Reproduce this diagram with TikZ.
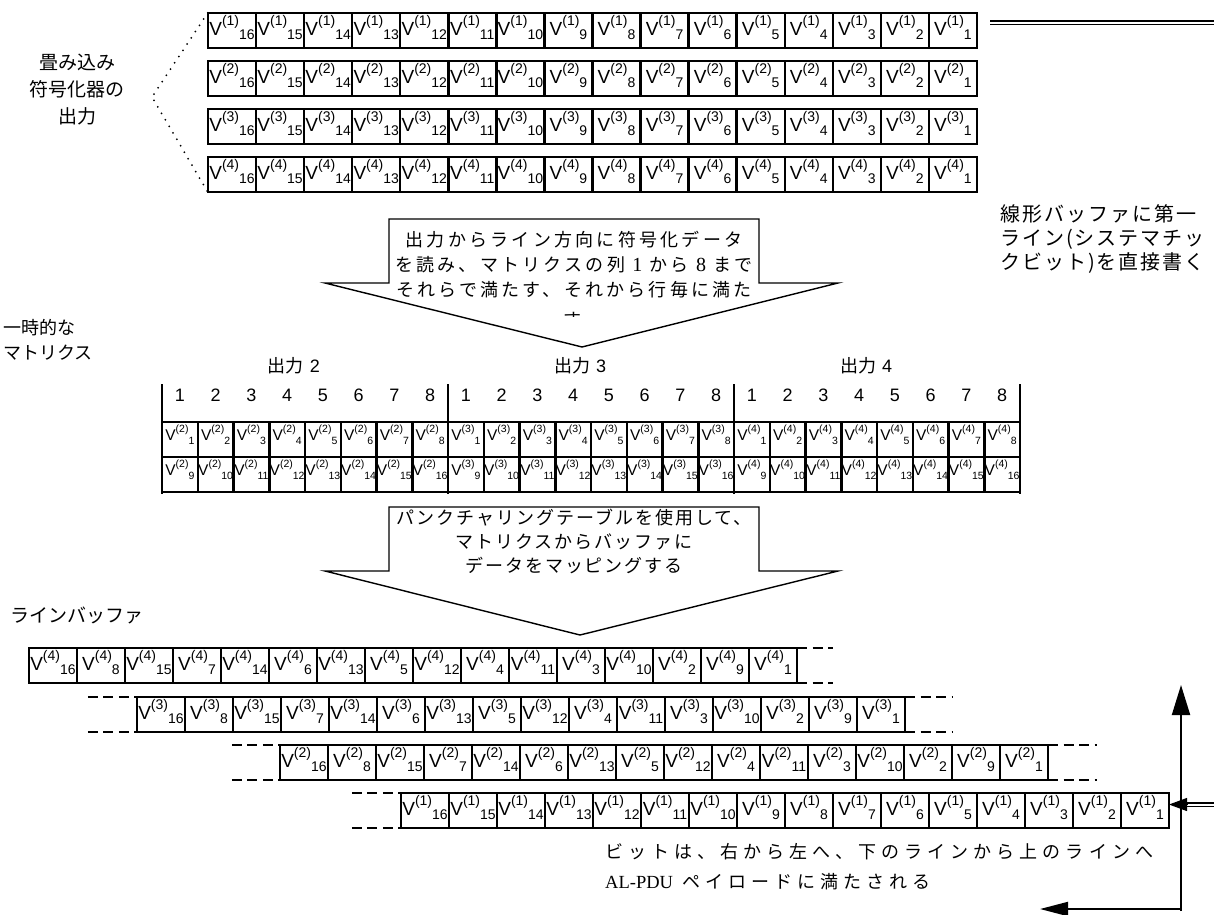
\documentclass[tikz,border=0pt]{standalone}
\usepackage{fontspec}
\setmainfont{Liberation Sans}
\newfontfamily\jp{Noto Sans CJK JP}
\newfontfamily\jpA{Noto Sans CJK JP}[LetterSpace=18]
\newfontfamily\jpB{Noto Sans CJK JP}[LetterSpace=11]
\newfontfamily\jpC{Noto Sans CJK JP}[LetterSpace=10]
\newfontfamily\jpD{Noto Sans CJK JP}[LetterSpace=28]
\newfontfamily\serifA{Liberation Serif}
\usetikzlibrary{arrows.meta,calc}

\newcommand\vbig[2]{\makebox[0pt][c]{{\fontsize{19}{19}\selectfont V}\raisebox{10pt}{\fontsize{14}{14}\selectfont(#1)}\raisebox{-4pt}{\fontsize{14}{14}\selectfont #2}}}
\newcommand\vsmall[2]{\makebox[0pt][c]{{\fontsize{15.5}{15.5}\selectfont V}\raisebox{8pt}{\fontsize{10.5}{10.5}\selectfont(#1)}\raisebox{-3.5pt}{\fontsize{10.5}{10.5}\selectfont #2}}}

\begin{document}
\begin{tikzpicture}[x=1pt,y=-1pt,
  cellT/.style={minimum width=48pt, minimum height=35pt, inner sep=0pt, text height=20pt, text depth=10pt},
  cellM/.style={minimum width=35.75pt, minimum height=35pt, inner sep=0pt, text height=14pt, text depth=12pt},
  box/.style={line width=2.1pt},
  sepline/.style={line width=2.8pt},
  dashline/.style={line width=2pt, dash pattern=on 10pt off 5.5pt},
  dotline/.style={line width=2pt, line cap=round, dash pattern=on 0pt off 7.5pt},
  blockarrow/.style={draw, line width=1.4pt, fill=white, line join=miter},
  dbl/.style={line width=1.3pt, double=white, double distance=2pt},
  uptip/.style={line width=2pt, -{Triangle[length=30pt,width=18pt]}},
  lefttip/.style={line width=2pt, -{Triangle[length=28pt,width=14pt]}},
  smalltip/.style={line width=1.2pt, -{Triangle[length=18pt,width=13pt]}},
  hdr/.style={inner sep=0pt, font=\fontsize{18}{18}\selectfont},
  grp/.style={inner sep=0pt, font=\fontsize{18}{18}\selectfont},
  lbl/.style={inner sep=0pt, font=\jp\fontsize{19}{27}\selectfont}
]
\fill[white] (0,0) rectangle (1214,914);
\useasboundingbox (0,0) rectangle (1214,914);

% ---------- convolutional encoder outputs ----------
\foreach \r in {1,...,4}{
  \foreach \k in {1,...,16}{
    \pgfmathtruncatemacro\s{17-\k}
    \node[cellT] (t\r-\k) at ({208+48.06*(\k-0.5)},{30.5+48*(\r-1)}) {\vbig{\r}{\s}};
  }
}
\foreach \r in {1,...,4}{
  \foreach \k in {1,...,16}{
    \draw[box] (t\r-\k.north west) rectangle (t\r-\k.south east);
  }
}
\node[lbl, align=center] (conv) at (77,90) {畳み込み\\符号化器の\\出力};
\coordinate (fan) at (152,97);
\draw[dotline] (t1-1.north west) -- (fan) -- (t4-1.south west);

% systematic line leaving to the right
\coordinate (sysS) at (990,22.5);
\coordinate (sysE) at (1214,22.5);
\draw[dbl] (sysS) -- (sysE);

\node[inner sep=0pt, font=\jpC\fontsize{20}{24}\selectfont, align=left, anchor=west] (systxt) at (1000,239)
  {線形バッファに第一\\ライン(システマチッ\\クビット)を直接書く};

% ---------- block arrow 1 ----------
\draw[blockarrow] (389,219) -- (759,219) -- (759,283) -- (838,283) -- (582,347) -- (325,283) -- (389,283) -- cycle;
\node[inner sep=0pt, font=\jpA\fontsize{18}{25}\selectfont, align=center] (a1txt) at (574,265)
  {出力からライン方向に符号化データ\\を読み、マトリクスの列 {\serifA\fontsize{20}{25}\selectfont 1} から {\serifA\fontsize{20}{25}\selectfont 8} まで\\それらで満たす、それから行毎に満た};
\begin{scope}
  \clip (389,300) rectangle (759,316);
  \node[inner sep=0pt, font=\jpA\fontsize{18}{25}\selectfont] (a1cut) at (572,320) {す};
\end{scope}

% ---------- temporary matrix ----------
\node[inner sep=0pt, font=\jp\fontsize{18}{25}\selectfont, align=left, anchor=west] (tmp) at (3,340) {一時的な\\マトリクス};
\foreach \g in {2,3,4}{
  \foreach \c in {1,...,8}{
    \pgfmathtruncatemacro\cc{\c+8}
    \pgfmathsetmacro\xx{162+286*(\g-2)+35.75*(\c-0.5)}
    \node[cellM] (m\g-1-\c) at (\xx,439.5) {\vsmall{\g}{\c}};
    \node[cellM] (m\g-2-\c) at (\xx,474.5) {\vsmall{\g}{\cc}};
    \node[hdr] (h\g-\c) at (\xx,395) {\c};
  }
  \node[grp] (g\g) at ({162+286*(\g-2)+132},366) {{\jp 出力}\hspace{6pt}\g};
}
\foreach \g in {2,3,4}{
  \foreach \c in {1,...,8}{
    \draw[box] (m\g-1-\c.north west) rectangle (m\g-1-\c.south east);
    \draw[box] (m\g-2-\c.north west) rectangle (m\g-2-\c.south east);
  }
}
\foreach \xs in {162,448,734,1020} \draw[sepline] (\xs,384) -- (\xs,494);

% ---------- block arrow 2 ----------
\draw[blockarrow] (389,507) -- (759,507) -- (759,571) -- (838,571) -- (580,635) -- (325,571) -- (389,571) -- cycle;
\node[inner sep=0pt, font=\jpB\fontsize{18}{24}\selectfont, align=center] (a2txt) at (574,541)
  {パンクチャリングテーブルを使用して、\\マトリクスからバッファに\\データをマッピングする};

% ---------- line buffer ----------
\node[inner sep=0pt, font=\jp\fontsize{19}{19}\selectfont, anchor=west] (lb) at (10,615) {ラインバッファ};
\foreach \s [count=\k] in {16,8,15,7,14,6,13,5,12,4,11,3,10,2,9,1}{
  \node[cellT] (b4-\k) at ({29+48*(\k-0.5)},665.5) {\vbig{4}{\s}};
  \node[cellT] (b3-\k) at ({137+48*(\k-0.5)},714.5) {\vbig{3}{\s}};
  \node[cellT] (b2-\k) at ({280+48*(\k-0.5)},762.5) {\vbig{2}{\s}};
}
\foreach \s [count=\k] in {16,15,14,13,12,11,10,9,8,7,6,5,4,3,2,1}{
  \node[cellT] (b1-\k) at ({401+48*(\k-0.5)},810.5) {\vbig{1}{\s}};
}
\foreach \r in {1,...,4}{
  \foreach \k in {1,...,16}{
    \draw[box] (b\r-\k.north west) rectangle (b\r-\k.south east);
  }
}
% dashed continuations
\draw[dashline] (b4-16.north east) -- ++(36,0);
\draw[dashline] (b4-16.south east) -- ++(36,0);
\draw[dashline] ($(b3-1.north west)+(-49,0)$) -- (b3-1.north west);
\draw[dashline] ($(b3-1.south west)+(-49,0)$) -- (b3-1.south west);
\draw[dashline] (b3-16.north east) -- ++(48,0);
\draw[dashline] (b3-16.south east) -- ++(48,0);
\draw[dashline] ($(b2-1.north west)+(-48,0)$) -- (b2-1.north west);
\draw[dashline] ($(b2-1.south west)+(-48,0)$) -- (b2-1.south west);
\draw[dashline] (b2-16.north east) -- ++(49,0);
\draw[dashline] (b2-16.south east) -- ++(49,0);
\draw[dashline] ($(b1-1.north west)+(-49,0)$) -- (b1-1.north west);
\draw[dashline] ($(b1-1.south west)+(-49,0)$) -- (b1-1.south west);

% systematic line entering row 1
\coordinate (sysIn) at (1214,804.5);
\coordinate (sysMid) at (1187,804.5);
\coordinate (sysTip) at (1169,804.5);
\draw[dbl] (sysIn) -- (sysMid);
\draw[smalltip] (sysMid) -- (sysTip);

% fill direction arrows
\coordinate (corner) at (1181,911);
\coordinate (upEnd) at (1181,685);
\coordinate (leftEnd) at (1040,909);
\draw[uptip] (corner) -- (upEnd);
\draw[lefttip] (1181,909) -- (leftEnd);

\node[inner sep=0pt, font=\jpD\fontsize{18}{30}\selectfont, align=left, anchor=west] (fill) at (605,867)
  {ビットは、右から左へ、下のラインから上のラインへ\\{\serifA\fontsize{18.5}{30}\selectfont AL-PDU} ペイロードに満たされる};
\end{tikzpicture}
\end{document}
